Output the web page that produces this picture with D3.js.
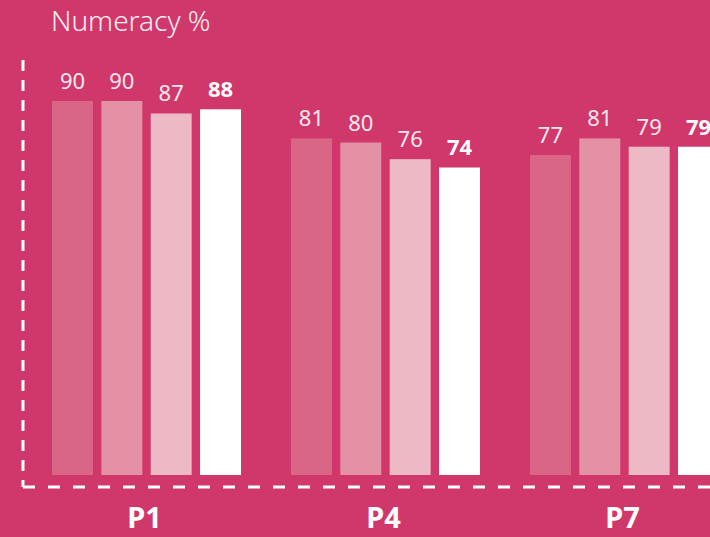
<!DOCTYPE html>
<html>
<head>
<meta charset="utf-8">
<script src="https://cdn.jsdelivr.net/npm/d3@7"></script>
<style>
  html, body { margin: 0; padding: 0; background: #d0376a; overflow: hidden; }
  svg { display: block; font-family: "Noto Sans", sans-serif; }
</style>
</head>
<body>
<div id="chart"></div>
<script>
// Chart size
const width = 710;
const height = 537;

// Data
const groups = ["P1", "P4", "P7"];
const series = ["s1", "s2", "s3", "s4"];
const values = [
    [90, 90, 87, 88],   // P1
    [81, 80, 76, 74],   // P4
    [77, 81, 79, 79]    // P7
];
const barColors = ["#da6687", "#e491a5", "#edb9c5", "#ffffff"];

const svg = d3.select("#chart").append("svg")
    .attr("width", width)
    .attr("height", height);

// Scales
const x0 = d3.scaleBand()
    .domain(groups)
    .range([52, 719])
    .paddingInner(0.209)
    .paddingOuter(0);

const x1 = d3.scaleBand()
    .domain(series)
    .range([0, x0.bandwidth()])
    .paddingInner(0.17)
    .paddingOuter(0);

const y = d3.scaleLinear()
    .domain([0, 90])
    .range([475, 101]);

// Title
svg.append("text")
    .attr("x", 51)
    .attr("y", 31)
    .attr("fill", "#fcedf2")
    .style("font-size", "28px")
    .style("font-weight", 300)
    .text("Numeracy %");

// Bars
const g = svg.selectAll("g.group")
    .data(groups)
    .enter().append("g")
    .attr("class", "group")
    .attr("transform", d => "translate(" + x0(d) + ",0)");

g.selectAll("rect")
    .data((d, i) => values[i].map((v, j) => ({ key: series[j], value: v, idx: j })))
    .enter().append("rect")
    .attr("x", d => x1(d.key))
    .attr("y", d => y(d.value))
    .attr("width", x1.bandwidth())
    .attr("height", d => y(0) - y(d.value))
    .attr("fill", d => barColors[d.idx]);

// Value labels
g.selectAll("text.val")
    .data((d, i) => values[i].map((v, j) => ({ key: series[j], value: v, idx: j })))
    .enter().append("text")
    .attr("class", "val")
    .attr("x", d => x1(d.key) + x1.bandwidth() / 2)
    .attr("y", d => y(d.value) - 12)
    .attr("text-anchor", "middle")
    .attr("fill", d => d.idx === 3 ? "#ffffff" : "#fce8ef")
    .style("font-size", "22px")
    .style("font-weight", d => d.idx === 3 ? 700 : 400)
    .text(d => d.value);

// Dashed axes
svg.append("line")
    .attr("x1", 23).attr("x2", 23)
    .attr("y1", 60).attr("y2", 487)
    .attr("stroke", "#ffffff")
    .attr("stroke-width", 3)
    .attr("stroke-dasharray", "11,9");

svg.append("line")
    .attr("x1", 23).attr("x2", width)
    .attr("y1", 487).attr("y2", 487)
    .attr("stroke", "#ffffff")
    .attr("stroke-width", 3)
    .attr("stroke-dasharray", "12,13");

// Category labels
svg.selectAll("text.cat")
    .data(groups)
    .enter().append("text")
    .attr("class", "cat")
    .attr("x", d => x0(d) + x0.bandwidth() / 2 - 2)
    .attr("y", 528)
    .attr("text-anchor", "middle")
    .attr("fill", "#ffffff")
    .style("font-size", "29px")
    .style("font-weight", 700)
    .text(d => d);
</script>
</body>
</html>
